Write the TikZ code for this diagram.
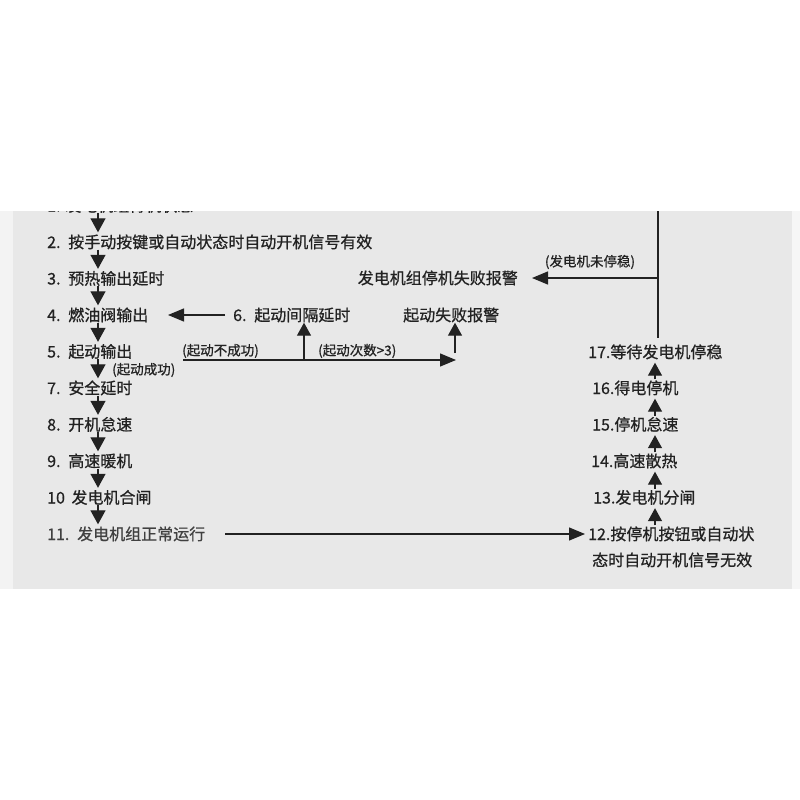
\documentclass[tikz,border=0pt]{standalone}
\usepackage{fontspec}
\setmainfont{Noto Sans CJK SC}[FakeBold=0.7]
\usetikzlibrary{arrows.meta,calc}
\definecolor{panel}{HTML}{E8E8E8}
\definecolor{sidel}{HTML}{F3F3F3}
\definecolor{sider}{HTML}{F6F6F6}
\definecolor{ink}{HTML}{222222}
\definecolor{inkb}{HTML}{404040}
\begin{document}
\begin{tikzpicture}[x=1pt,y=-1pt,
  txt/.style={anchor=west,inner sep=0pt,text height=13.5pt,text depth=1.5pt,font=\fontsize{16}{19}\selectfont,text=ink},
  lbl/.style={inner sep=0pt,font=\fontsize{13.5}{16}\selectfont,text=ink},
  ln/.style={draw=ink,line width=1.3pt},
  dn/.style={ln,-{Triangle[width=15pt,length=14pt]}},
  upa/.style={ln,-{Triangle[width=14pt,length=13pt]}},
  hz/.style={ln,-{Triangle[width=13pt,length=16pt]}}]
\useasboundingbox (0,0) rectangle (800,800);
% background panel
\fill[white] (0,0) rectangle (800,800);
\fill[sidel] (0,211) rectangle (13,589);
\fill[sider] (792,211) rectangle (800,589);
\fill[panel] (13,211) rectangle (792,589);
\begin{scope}
  \clip (13,211) rectangle (792,589);
  \node[txt] (n1) at (47,205.5) {1. 发电机组待机状态};
\end{scope}
% left column
\node[txt] (n2) at (47,242) {2.\hspace{3pt} 按手动按键或自动状态时自动开机信号有效};
\node[txt] (n3) at (47,278.5) {3.\hspace{3pt} 预热输出延时};
\node[txt] (n4) at (47,315) {4.\hspace{3pt} 燃油阀输出};
\node[txt] (n5) at (47,351.5) {5.\hspace{3pt} 起动输出};
\node[txt] (n7) at (47,388) {7.\hspace{3pt} 安全延时};
\node[txt] (n8) at (47,424.5) {8.\hspace{3pt} 开机怠速};
\node[txt] (n9) at (47,461) {9.\hspace{3pt} 高速暖机};
\node[txt] (n10) at (47,497.5) {10\hspace{3pt} 发电机合闸};
\node[txt,text=inkb] (n11) at (47,534) {11.\hspace{3pt} 发电机组正常运行};
% middle
\node[txt] (n6) at (233,315) {6.\hspace{3pt} 起动间隔延时};
\node[txt] (nfail) at (403,315) {起动失败报警};
\node[txt,anchor=east] (nsf) at (518,278) {发电机组停机失败报警};
% right column
\node[txt] (n17) at (588,352) {17.等待发电机停稳};
\node[txt] (n16) at (592,388) {16.得电停机};
\node[txt] (n15) at (592,424.5) {15.停机怠速};
\node[txt] (n14) at (591,461) {14.高速散热};
\node[txt] (n13) at (593,497.5) {13.发电机分闸};
\node[txt] (n12) at (588,534) {12.按停机按钮或自动状};
\node[txt] (n12b) at (592,560) {态时自动开机信号无效};
% labels
\node[lbl,anchor=west] (l1) at (182,351) {(起动不成功)};
\node[lbl,anchor=west] (l2) at (318,351) {(起动次数>3)};
\node[lbl,anchor=west] (l3) at (112,370) {(起动成功)};
\node[lbl] (l4) at (590,262) {(发电机未停稳)};
% left column arrows
\coordinate (lc) at (98,0);
\draw[dn,shorten >=2pt] (lc |- n1.south) -- (lc |- n2.north);
\draw[dn,shorten >=2pt] (lc |- n2.south) -- (lc |- n3.north);
\draw[dn,shorten >=2pt] (lc |- n3.south) -- (lc |- n4.north);
\draw[dn,shorten >=2pt] (lc |- n4.south) -- (lc |- n5.north);
\draw[dn,shorten >=2pt] (lc |- n5.south) -- (lc |- n7.north);
\draw[dn,shorten >=2pt] (lc |- n7.south) -- (lc |- n8.north);
\draw[dn,shorten >=2pt] (lc |- n8.south) -- (lc |- n9.north);
\draw[dn,shorten >=2pt] (lc |- n9.south) -- (lc |- n10.north);
\draw[dn,shorten >=2pt] (lc |- n10.south) -- (lc |- n11.north);
% restart loop
\coordinate (n4tip) at (168,315);
\draw[hz] ([xshift=-8pt]n6.west) -- (n4tip);
\coordinate (fs) at (183,360);
\coordinate (fe) at (456,360);
\coordinate (fj) at (304,360);
\coordinate (fv) at (455,353);
\draw[hz] (fs) -- (fe);
\draw[upa] (fj) -- (fj |- n6.south);
\draw[upa] (fv) -- (fv |- nfail.south);
% right column arrows
\coordinate (rc) at (655,0);
\draw[upa,shorten >=3pt,shorten <=1pt] (rc |- n12.north) -- (rc |- n13.south);
\draw[upa,shorten >=3pt,shorten <=1pt] (rc |- n13.north) -- (rc |- n14.south);
\draw[upa,shorten >=3pt,shorten <=1pt] (rc |- n14.north) -- (rc |- n15.south);
\draw[upa,shorten >=3pt,shorten <=1pt] (rc |- n15.north) -- (rc |- n16.south);
\draw[upa,shorten >=3pt,shorten <=1pt] (rc |- n16.north) -- (rc |- n17.south);
% stop failure branch
\coordinate (vt) at (658,211);
\coordinate (vj) at (658,278);
\draw[ln,shorten >=6pt] (vt) -- (vt |- n17.north);
\draw[hz,shorten >=14pt] (vj) -- (nsf.east);
% run -> stop
\coordinate (s11) at (225,534);
\draw[hz,shorten >=3pt] (s11) -- (n12.west);
\end{tikzpicture}
\end{document}
